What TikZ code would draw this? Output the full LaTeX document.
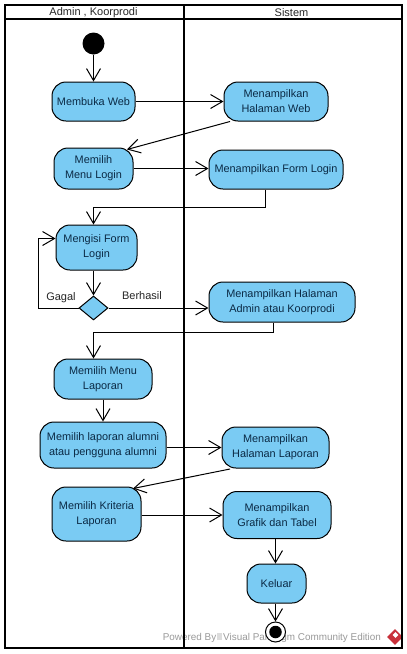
\documentclass[tikz,border=0pt]{standalone}
\usepackage{fontspec}
\setmainfont{Liberation Sans}
\usetikzlibrary{arrows.meta,shapes.geometric}
\definecolor{actfill}{HTML}{7ACBF3}
\definecolor{acttext}{HTML}{0B2A45}
\definecolor{wmgray}{HTML}{9A9A9A}
\definecolor{vpred}{HTML}{C8303A}
\tikzset{
	act/.style={draw=black, fill=actfill, text=acttext, rounded corners=14pt, line width=1pt, inner sep=0pt, align=center, font=\fontsize{10.9}{15}\selectfont},
	flow/.style={draw=black, line width=1pt, -{Straight Barb[length=12pt,width=14pt,line width=1pt]}},
	lane/.style={draw=black, line width=2pt},
	lanetitle/.style={font=\fontsize{11}{12}\selectfont, text=black!85},
	guard/.style={font=\fontsize{11}{12}\selectfont, text=black!85}
}
\begin{document}
\begin{tikzpicture}[x=1pt, y=-1pt]
	\useasboundingbox (0,0) rectangle (407,654);
	\fill[white] (0,0) rectangle (407,654);
	
	% watermark under everything
	\node[text=wmgray, font=\fontsize{9.9}{11}\selectfont, anchor=east] (powered) at (384.5,637.5){Powered By\hspace{1pt}\textcolor{wmgray!35}{\rule{5pt}{7pt}}\hspace{1pt}Visual Paradigm Community Edition};
	\node[diamond, fill=vpred, minimum size=16pt, inner sep=0pt] (vplogo) at (395,637){};
	\node[diamond, fill=white, minimum size=6pt, inner sep=0pt] (vpmark) at (395.5,635){};
	
	% swimlanes
	\draw[lane] (4.5,5) rectangle (402,648);
	\draw[lane] (4.5,19) -- (402,19);
	\draw[lane] (183.5,5) -- (183.5,648);
	\node[lanetitle] (admin) at (93.5,13){Admin , Koorprodi};
	\node[lanetitle] (sistem) at (291.5,13){Sistem};
	
	% left lane
	\node[circle, fill=black, minimum size=22pt, inner sep=0pt] (start) at (93.5,43.5){};
	\node[act, minimum width=83pt, minimum height=39pt] (bukaweb) at (93.5,101.5){Membuka Web};
	\node[act, minimum width=79pt, minimum height=41pt] (menulogin) at (93.5,168.5){Memilih\\Menu Login};
	\node[act, minimum width=81pt, minimum height=45pt] (isiform) at (96.5,247.5){Mengisi Form\\Login};
	\node[diamond, draw=black, fill=actfill, line width=1pt, minimum width=29pt, minimum height=24pt, inner sep=0pt] (cek) at (93.5,308){};
	\node[guard] (gagal) at (61,298){Gagal};
	\node[guard] (berhasil) at (142,296){Berhasil};
	\node[act, minimum width=98pt, minimum height=40pt] (menulaporan) at (103,379){Memilih Menu\\Laporan};
	\node[act, minimum width=126pt, minimum height=46pt] (pilihalumni) at (103,445){Memilih laporan alumni\\atau pengguna alumni};
	\node[act, minimum width=89pt, minimum height=54pt] (kriteria) at (96.5,514){Memilih Kriteria\\Laporan};
	
	% right lane
	\node[act, minimum width=104pt, minimum height=39pt] (halweb) at (276,101.5){Menampilkan\\Halaman Web};
	\node[act, minimum width=134pt, minimum height=39pt] (formlogin) at (276,169.5){Menampilkan Form Login};
	\node[act, minimum width=146pt, minimum height=40pt] (haladmin) at (282,302){Menampilkan Halaman\\Admin atau Koorprodi};
	\node[act, minimum width=107pt, minimum height=41pt] (hallaporan) at (275.5,447.5){Menampilkan\\Halaman Laporan};
	\node[act, minimum width=108pt, minimum height=47pt] (grafik) at (277,515){Menampilkan\\Grafik dan Tabel};
	\node[act, minimum width=59pt, minimum height=39pt] (keluar) at (276.5,583.5){Keluar};
	\node[circle, draw=black, fill=white, line width=1pt, minimum size=20pt, inner sep=0pt] (akhir) at (275.5,632){};
	\node[circle, fill=black, minimum size=12.5pt, inner sep=0pt] (akhirdot) at (275.5,632){};
	
	% connectors
	\draw[flow] (start)--(bukaweb);
	\draw[flow] (bukaweb)--(halweb);
	\draw[flow] ([xshift=-46pt]halweb.south)--([xshift=33.5pt,yshift=-2pt]menulogin.north);
	\draw[flow] (menulogin.east)--(menulogin.east-|formlogin.west);
	\draw[flow] ([xshift=-11pt]formlogin.south)--++(0,17.5)-|([xshift=-3pt]isiform.north);
	\draw[flow] ([xshift=-3pt]isiform.south)--(cek.north);
	\draw[flow] (cek.west)-|(38.5,238.5)--([yshift=9pt]isiform.west);
	\draw[flow] (cek.east)--(cek.east-|haladmin.west);
	\draw[flow] ([xshift=-8.5pt]haladmin.south)--++(0,10)-|([xshift=-9.5pt]menulaporan.north);
	\draw[flow] (menulaporan)--(pilihalumni);
	\draw[flow] ([yshift=-2.5pt]pilihalumni.east)--(hallaporan.west);
	\draw[flow] ([xshift=-45.5pt,yshift=-.5pt]hallaporan.south)--([xshift=36.5pt,yshift=-2pt]kriteria.north);
	\draw[flow] ([yshift=-1pt]kriteria.east)--(grafik.west);
	\draw[flow] ([xshift=-1.5pt]grafik.south)--([xshift=-1pt]keluar.north);
	\draw[flow] ([xshift=-1pt]keluar.south)--(akhir.north);
\end{tikzpicture}
\end{document}
